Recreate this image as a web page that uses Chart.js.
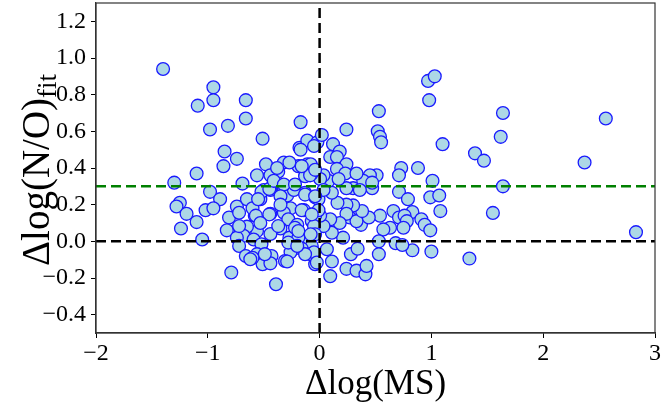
<!DOCTYPE html>
<html>
<head>
<meta charset="utf-8">
<script src="https://cdn.jsdelivr.net/npm/chart.js@4.4.1/dist/chart.umd.min.js"></script>
<style>
html,body{margin:0;padding:0;background:#fff;}
#wrap{width:661px;height:407px;}
</style>
</head>
<body>
<div id="wrap"><canvas id="c" width="661" height="407"></canvas></div>
<script>
// ---- data ----
const xLabel = "Δlog(MS)";
const yLabelMain = "Δlog(N/O)";
const yLabelSub = "fit";
const xTicks = [-2, -1, 0, 1, 2, 3];
const yTicks = [-0.4, -0.2, 0.0, 0.2, 0.4, 0.6, 0.8, 1.0, 1.2];
const xRange = [-2, 3];
const yRange = [-0.5, 1.3];
const refX = 0;      // vertical black dashed line
const refY0 = 0;     // horizontal black dashed line
const refYg = 0.3;   // horizontal green dashed line

const dMS = [
-1.40,-0.95,-0.95,-1.09,-0.66,-0.66,-0.98,-0.82,-0.51,-0.17,-0.85,-0.74,-0.86,-0.18,-0.11,-0.02,
0.97,1.03,0.98,0.53,1.64,0.24,0.52,0.54,0.55,1.10,1.62,1.39,1.47,0.02,0.12,0.18,0.095,0.155,0.24,0.73,0.88,-0.11,2.56,2.37,1.64,2.83,
0.71,1.01,0.71,0.79,0.99,1.07,1.08,1.55,1.34,0.83,0.91,0.94,0.99,1.00,0.83,0.66,0.71,0.76,0.78,0.75,0.63,0.57,0.54,0.68,0.74,0.53,0.53,
0.28,0.34,0.24,0.33,0.41,0.42,0.095,0.11,-0.04,0.065,0.21,0.11,0.37,0.27,0.33,0.44,0.38,0.30,0.24,0.16,0.24,0.18,0.095,0.035,0.005,
0.51,0.45,0.39,0.47,0.30,0.24,0.36,0.11,0.08,0.155,0.23,0.33,0.035,0.17,0.47,-0.05,-0.13,0.005,-0.13,-0.04,-0.14,-0.07,-0.11,-0.07,
-0.08,-0.16,-0.01,0.035,-0.04,-0.01,-0.05,-0.04,-0.05,-0.025,-0.08,-0.07,-0.05,-0.19,-0.085,-0.04,
-1.30,-1.10,-0.48,-0.32,-0.27,-0.17,-0.56,-0.43,-0.69,-0.37,-0.98,-0.89,-1.25,-1.28,-1.19,-1.02,-0.95,-1.10,-1.24,-1.05,-0.81,-0.83,
-0.74,-0.72,-0.65,-0.53,-0.58,-0.44,-0.50,-0.44,-0.32,-0.29,-0.23,-0.26,-0.16,-0.32,-0.28,-0.20,-0.35,-0.44,-0.56,-0.65,-0.68,-0.74,
-0.72,-0.59,-0.52,-0.27,-0.19,-0.20,-0.26,-0.13,-0.66,-0.56,-0.43,-0.51,-0.44,-0.31,-0.29,-0.79,-0.39,-0.60,-0.44,-0.52,-0.45,-0.41,
-0.32,-0.35,-0.22,-0.13,-0.04,-0.60,-0.55,-0.72,-0.57,-0.45,-0.53,-0.37,-0.22,-0.07,-0.35,-0.19,-0.08,-0.28,-0.20,-0.49,-0.62,-0.38,-0.16
];
const dNO = [
0.94,0.84,0.77,0.74,0.77,0.67,0.61,0.63,0.56,0.65,0.49,0.45,0.41,0.51,0.55,0.54,
0.875,0.90,0.77,0.71,0.70,0.61,0.60,0.57,0.54,0.53,0.57,0.48,0.44,0.58,0.53,0.49,0.46,0.46,0.42,0.40,0.40,0.42,0.67,0.43,0.30,0.05,
0.36,0.33,0.27,0.23,0.24,0.25,0.165,0.155,-0.094,0.16,0.12,0.09,0.06,-0.056,-0.049,0.165,0.13,0.14,0.11,0.074,0.074,0.065,0.14,-0.01,-0.02,0.00,-0.07,
-0.07,-0.04,-0.15,-0.16,-0.18,-0.134,-0.19,-0.11,-0.125,-0.043,0.02,0.047,0.09,0.13,0.11,0.13,0.165,0.196,0.20,0.21,0.15,0.10,0.12,0.083,0.14,
0.36,0.36,0.33,0.29,0.29,0.29,0.28,0.265,0.33,0.395,0.37,0.37,0.36,0.34,0.32,0.38,0.355,0.34,0.265,0.24,0.17,0.11,0.01,-0.025,
-0.07,-0.04,0.23,0.28,0.14,0.17,0.083,0.038,-0.06,-0.116,0.42,0.37,0.52,0.41,0.36,0.39,
0.32,0.37,0.42,0.43,0.43,0.50,0.36,0.355,0.315,0.38,0.27,0.23,0.21,0.19,0.15,0.17,0.18,0.105,0.07,0.01,0.13,0.06,
0.19,0.156,0.23,0.23,0.14,0.15,0.28,0.28,0.29,0.25,0.28,0.18,0.17,0.156,0.12,0.09,0.07,0.04,0.056,0.08,0.03,0.02,
-0.025,0.01,-0.016,0.02,0.02,-0.035,-0.06,-0.07,-0.08,-0.07,-0.08,-0.125,-0.12,-0.107,-0.11,-0.17,-0.234,-0.09,0.36,0.27,0.286,0.33,
0.31,0.246,0.31,0.255,0.246,0.18,0.23,0.083,0.14,0.147,0.10,0.083,0.074,0.147,0.20,0.056,0.038,-0.007,-0.025,-0.07,-0.098,0.40,0.41
];

const points = dMS.map((x, i) => ({x: x, y: dNO[i]}));
const FONT = "'Liberation Serif', 'Times New Roman', serif";
const minus = v => String(v).replace('-', '\u2212');

const framePlugin = {
  id: 'frame',
  afterDraw(chart) {
    const {ctx, chartArea: a} = chart;
    ctx.save();
    ctx.strokeStyle = '#333';
    ctx.lineWidth = 1.2;
    ctx.strokeRect(a.left, a.top, a.right - a.left, a.bottom - a.top);
    ctx.fillStyle = '#000';
    // x title
    ctx.font = "35px " + FONT;
    ctx.textAlign = 'center';
    ctx.textBaseline = 'alphabetic';
    ctx.fillText(xLabel, (a.left + a.right) / 2, 394);
    // y title with subscript
    ctx.translate(37, (a.top + a.bottom) / 2 + 2);
    ctx.rotate(-Math.PI / 2);
    ctx.font = "39px " + FONT;
    const w1 = ctx.measureText(yLabelMain).width;
    ctx.font = "27px " + FONT;
    const w2 = ctx.measureText(yLabelSub).width;
    const start = -(w1 + w2) / 2;
    ctx.textAlign = 'left';
    ctx.font = "39px " + FONT;
    ctx.fillText(yLabelMain, start, 12);
    ctx.font = "27px " + FONT;
    ctx.fillText(yLabelSub, start + w1, 19);
    ctx.restore();
  }
};

new Chart(document.getElementById('c'), {
  type: 'scatter',
  data: {
    datasets: [
      {
        type: 'line', data: [{x: xRange[0], y: refY0}, {x: xRange[1], y: refY0}],
        borderColor: '#000', borderWidth: 2.5, borderDash: [10, 5], pointRadius: 0, order: 0
      },
      {
        type: 'line', data: [{x: refX, y: yRange[0]}, {x: refX, y: yRange[1]}],
        borderColor: '#000', borderWidth: 2.5, borderDash: [10, 5], pointRadius: 0, order: 0
      },
      {
        type: 'line', data: [{x: xRange[0], y: refYg}, {x: xRange[1], y: refYg}],
        borderColor: '#008000', borderWidth: 2.5, borderDash: [10, 5], pointRadius: 0, order: 0
      },
      {
        data: points, backgroundColor: '#add8e6', borderColor: '#1a1aff', borderWidth: 1.3,
        pointRadius: 6.4, pointHoverRadius: 6.4, order: 1
      }
    ]
  },
  options: {
    responsive: false,
    animation: false,
    events: [],
    layout: {autoPadding: false, padding: {left: 0, right: 6, top: 3, bottom: 0}},
    plugins: {legend: {display: false}, tooltip: {enabled: false}},
    scales: {
      x: {
        type: 'linear', min: xRange[0], max: xRange[1],
        afterBuildTicks: s => { s.ticks = xTicks.map(v => ({value: v})); },
        afterFit: s => { s.height = 74; s.paddingLeft = 0; s.paddingRight = 0; },
        grid: {drawOnChartArea: false, drawTicks: true, tickLength: 5, tickColor: '#000', tickWidth: 1},
        border: {display: true, color: '#333', width: 1.2},
        ticks: {color: '#000', font: {family: FONT, size: 24}, padding: 1, maxRotation: 0,
                callback: v => minus(v)}
      },
      y: {
        type: 'linear', min: yRange[0], max: yRange[1],
        afterBuildTicks: s => { s.ticks = yTicks.map(v => ({value: v})); },
        afterFit: s => { s.width = 96; s.paddingTop = 0; s.paddingBottom = 0; },
        grid: {drawOnChartArea: false, drawTicks: true, tickLength: 5, tickColor: '#000', tickWidth: 1},
        border: {display: true, color: '#333', width: 1.2},
        ticks: {color: '#000', font: {family: FONT, size: 24}, padding: 5,
                callback: v => minus(v.toFixed(1))}
      }
    }
  },
  plugins: [framePlugin]
});
</script>
</body>
</html>
